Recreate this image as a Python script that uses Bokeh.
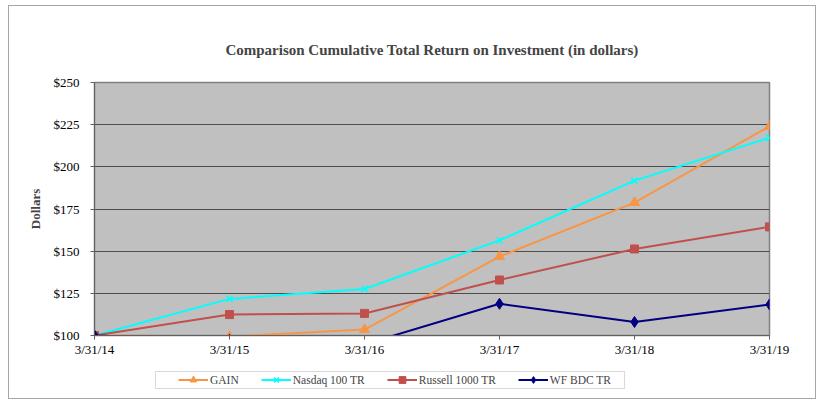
from bokeh.plotting import figure
from bokeh.embed import file_html
from bokeh.resources import INLINE
from bokeh.layouts import column
from bokeh.models import (FixedTicker, Legend, LegendItem, NumeralTickFormatter,
                          Range1d, Title, BoxAnnotation)

dates = ["3/31/14", "3/31/15", "3/31/16", "3/31/17", "3/31/18", "3/31/19"]
gain = [100, 99.4, 103.5, 146.8, 178.8, 224.0]
nasdaq = [100, 121.7, 127.6, 156.4, 191.8, 217.2]
russell = [100, 112.4, 113.1, 132.9, 151.3, 164.4]
wfbdc = [100, 97.5, 94.8, 118.8, 108.0, 118.4]
yticks = [100, 125, 150, 175, 200, 225, 250]

FONT = "Liberation Serif"
xs = list(range(len(dates)))

W = 806
p = figure(width=W, height=355, output_backend="svg", toolbar_location=None,
           x_range=Range1d(0, len(dates) - 1), y_range=Range1d(100, 250),
           min_border_left=85, min_border_right=46, min_border_top=76, min_border_bottom=26)

p.add_layout(Title(text=" ", text_font_size="21px", standoff=0), "above")
p.add_layout(Title(text="Comparison Cumulative Total Return on Investment (in dollars)",
                   align="center", text_font=FONT, text_font_size="15px",
                   text_font_style="bold", offset=-7, standoff=0), "above")

p.background_fill_color = "#C0C0C0"
p.border_fill_color = "white"
p.outline_line_color = "#808080"
p.outline_line_width = 1.5

p.xgrid.visible = False
p.ygrid.grid_line_color = "#4d4d4d"
p.ygrid.grid_line_width = 1.2
p.ygrid.ticker = FixedTicker(ticks=yticks)

p.yaxis.ticker = FixedTicker(ticks=yticks)
p.yaxis.formatter = NumeralTickFormatter(format="$0")
p.yaxis.axis_label = "Dollars"
p.yaxis.axis_label_text_font = FONT
p.yaxis.axis_label_text_font_style = "bold"
p.yaxis.axis_label_text_font_size = "13px"
p.yaxis.axis_label_standoff = 8

p.xaxis.ticker = FixedTicker(ticks=xs)
p.xaxis.major_label_overrides = {i: d for i, d in zip(xs, dates)}

for ax in (p.xaxis, p.yaxis):
    ax.major_label_text_font = FONT
    ax.major_label_text_font_size = "13px"
    ax.major_label_text_color = "black"
    ax.axis_line_color = "#606060"
    ax.major_tick_line_color = "#606060"
    ax.major_tick_out = 4
    ax.major_tick_in = 0
    ax.minor_tick_line_color = None
p.xaxis.major_label_standoff = 2
p.yaxis.major_label_standoff = 11

series = [
    ("GAIN", gain, "#F79646", "triangle", 10),
    ("Nasdaq 100 TR", nasdaq, "#00FFFF", "x", 9),
    ("Russell 1000 TR", russell, "#C0504D", "square", 8),
    ("WF BDC TR", wfbdc, "#000080", "diamond", 11),
]

# legend strip below the chart (its frame is aligned with the chart's frame,
# so its x range is expressed in page pixels of that frame: 94 .. 769)
LH = 37
leg = figure(width=W, height=LH, output_backend="svg", toolbar_location=None,
             x_range=Range1d(94, 769), y_range=Range1d(0, LH),
             min_border_left=85, min_border_right=46, min_border_top=0, min_border_bottom=0)
leg.axis.visible = False
leg.grid.visible = False
leg.outline_line_color = None
leg.background_fill_color = "white"
leg.border_fill_color = "white"
leg.add_layout(BoxAnnotation(left=155, right=624, bottom=10, top=27,
                             fill_color="white", fill_alpha=1,
                             line_color="#808080", line_width=1))

nan = float("nan")
items = []
for name, ys, color, marker, size in series:
    p.line(xs, ys, line_color=color, line_width=2)
    p.scatter(xs, ys, marker=marker, size=size, fill_color=color,
              line_color=color, line_width=1.5 if marker == "x" else 1)
    ll = leg.line([nan], [nan], line_color=color, line_width=2)
    ls = leg.scatter([nan], [nan], marker=marker, fill_color=color, line_color=color,
                     line_width=1.5 if marker == "x" else 1)
    items.append(LegendItem(label=name, renderers=[ll, ls]))

legend = Legend(items=items, orientation="horizontal", location=(84, 10),
                label_text_font=FONT, label_text_font_size="11.5px",
                glyph_width=30, glyph_height=17, label_height=17, spacing=22,
                padding=0, label_standoff=2, border_line_color=None,
                background_fill_alpha=0, margin=0)
leg.add_layout(legend, "center")

layout = column(p, leg, spacing=0,
                styles={"border": "1px solid #a6a6a6", "margin-left": "8px",
                        "margin-top": "5px"})

open("out.html", "w").write(file_html(layout, INLINE))
